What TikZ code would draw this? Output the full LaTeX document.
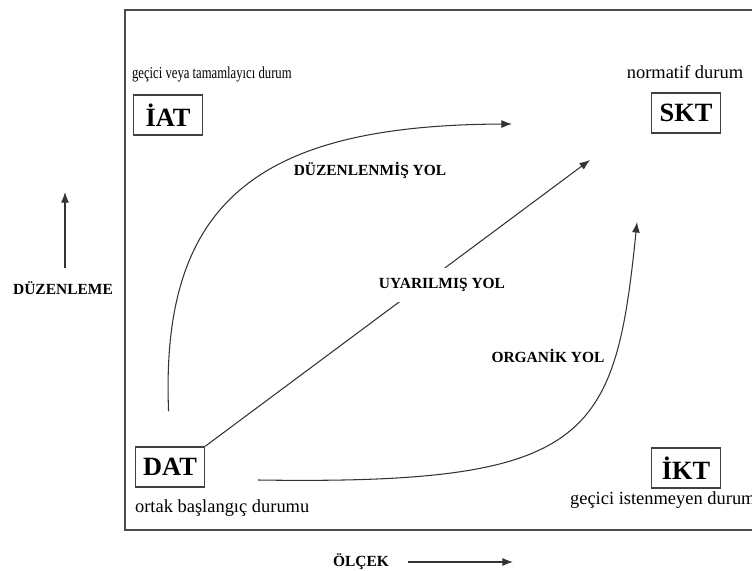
\documentclass[tikz,border=0pt]{standalone}
\usepackage{fontspec}
\setmainfont{Liberation Serif}
\usetikzlibrary{arrows.meta}
\begin{document}
\begin{tikzpicture}[x=0.02cm, y=-0.02cm,
  durum/.style={draw=black!75, line width=0.9pt, font=\fontsize{15}{16}\selectfont\bfseries, minimum width=1.38cm, minimum height=0.8cm, inner sep=0pt},
  aciklama/.style={font=\fontsize{9.5}{11}\selectfont, inner sep=1pt},
  buyukacik/.style={font=\fontsize{10.5}{12}\selectfont, inner sep=1pt},
  yol/.style={font=\fontsize{8.8}{10}\selectfont\bfseries, inner sep=1pt},
  ok/.style={-{Latex[length=6pt,width=4.5pt]}, draw=black!80, line width=0.6pt}]
\useasboundingbox (0,0) rectangle (752,571);
% frame
\draw[black!70, line width=1.1pt] (800,10) -- (125,10) -- (125,530) -- (800,530);
% states
\node[durum] (iat) at (168,115) {İAT};
\node[durum] (skt) at (686,113) {SKT};
\node[durum] (dat) at (170,467) {DAT};
\node[durum] (ikt) at (686,468) {İKT};
\node[aciklama, anchor=west] (iatnot) at (130,75) {\scalebox{0.76}[1]{geçici veya tamamlayıcı durum}};
\node[buyukacik] (sktnot) at (685,72) {normatif durum};
\node[buyukacik, anchor=west] (datnot) at (133,508) {ortak başlangıç durumu};
\node[buyukacik, anchor=west] (iktnot) at (568,500) {geçici istenmeyen durum};
% paths
\coordinate (d1) at (512,124);
\coordinate (u1) at (590,160);
\coordinate (o0) at (258,480);
\coordinate (o1) at (637,222);
\draw[ok, shorten <=0.7cm] (dat.north) .. controls (160,200) and (260,125) .. (d1);
\draw[ok] (dat.north east) -- (u1);
\draw[ok] (o0) .. controls (590,485) and (615,440) .. (o1);
\node[yol] (duzyol) at (370,170) {DÜZENLENMİŞ YOL};
\node[yol, fill=white, inner sep=6pt] (uyyol) at (442,285) {UYARILMIŞ YOL};
\node[yol] (orgyol) at (548,356) {ORGANİK YOL};
% axes
\node[yol] (duz) at (63,288) {DÜZENLEME};
\node[yol] (olc) at (361,562) {ÖLÇEK};
\coordinate (a1) at (65,268);
\coordinate (a2) at (65,192);
\coordinate (b1) at (408,562);
\coordinate (b2) at (513,562);
\draw[ok] (a1) -- (a2);
\draw[ok] (b1) -- (b2);
\end{tikzpicture}
\end{document}
